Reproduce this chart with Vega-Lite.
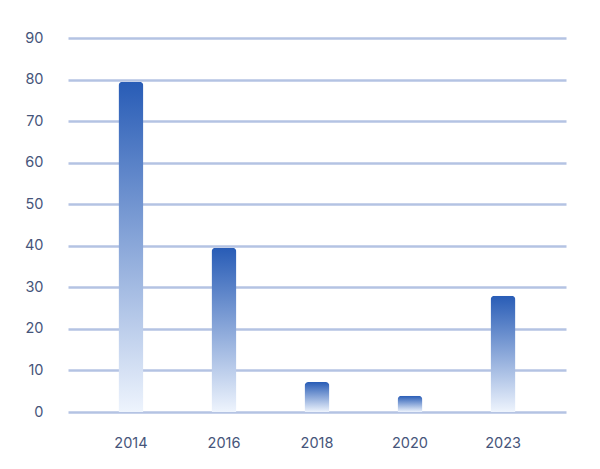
{
  "$schema": "https://vega.github.io/schema/vega-lite/v6.json",
  "autosize": "none",
  "width": 498,
  "height": 374,
  "padding": {"left": 68, "top": 38, "right": 34, "bottom": 57},
  "background": "#ffffff",
  "data": {"values": [
    {"year": "2014", "value": 79.5},
    {"year": "2016", "value": 39.5},
    {"year": "2018", "value": 7.2},
    {"year": "2020", "value": 3.9},
    {"year": "2023", "value": 28}
  ]},
  "mark": {
    "type": "bar",
    "size": 25,
    "cornerRadiusTopLeft": 4,
    "cornerRadiusTopRight": 4,
    "color": {
      "gradient": "linear",
      "x1": 0, "y1": 0, "x2": 0, "y2": 1,
      "stops": [
        {"offset": 0, "color": "#285cb6"},
        {"offset": 1, "color": "#eef4fd"}
      ]
    }
  },
  "encoding": {
    "x": {
      "field": "year", "type": "ordinal",
      "scale": {"paddingInner": 0, "paddingOuter": 0.177},
      "axis": {"title": null, "domain": false, "ticks": false, "labelAngle": 0, "labelPadding": 24, "labelFont": "Inter", "labelFontSize": 14.5, "labelColor": "#46557a", "grid": false}
    },
    "y": {
      "field": "value", "type": "quantitative",
      "scale": {"domain": [0, 90]},
      "axis": {"title": null, "domain": false, "ticks": false, "values": [0,10,20,30,40,50,60,70,80,90], "labelPadding": 25, "labelFont": "Inter", "labelFontSize": 14.5, "labelColor": "#46557a", "gridColor": "#b4c3e3", "gridWidth": 2.5, "gridOpacity": 1}
    }
  },
  "config": {"view": {"stroke": null}}
}
